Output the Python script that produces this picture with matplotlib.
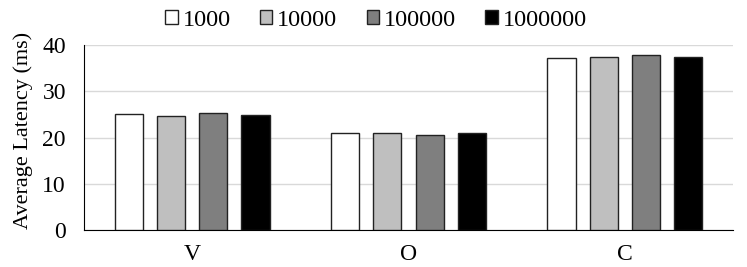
import matplotlib
matplotlib.use("Agg")
import matplotlib.pyplot as plt
import numpy as np

plt.rcParams['font.family'] = ['Liberation Serif', 'DejaVu Serif']

categories = ["V", "O", "C"]
series_names = ["1000", "10000", "100000", "1000000"]
values = {
    "1000": [25.1, 20.9, 37.2],
    "10000": [24.7, 20.9, 37.5],
    "100000": [25.4, 20.6, 37.8],
    "1000000": [24.8, 21.0, 37.5],
}
colors = ["white", "#bfbfbf", "#7f7f7f", "black"]

fig = plt.figure(figsize=(7.47, 2.67), dpi=100)
ax = fig.add_axes([84 / 747, 1 - 230 / 267, 649 / 747, 185 / 267])

x = np.arange(len(categories))
width = 0.13
step = 0.195
for i, name in enumerate(series_names):
    offset = (i - 1.5) * step
    ax.bar(x + offset, values[name], width, color=colors[i], edgecolor="#222222",
           linewidth=1.0, label=name, zorder=3)

ax.set_xlim(-0.5, 2.5)
ax.set_ylim(0, 40)
ax.set_yticks([0, 10, 20, 30, 40])
ax.set_xticks(x, categories)
ax.tick_params(axis='both', length=0, labelsize=17)
ax.tick_params(axis='x', pad=10)
ax.tick_params(axis='y', pad=13)
ax.grid(axis='y', color='#d9d9d9', linewidth=1.0, zorder=0)
for s in ["top", "right"]:
    ax.spines[s].set_visible(False)
ax.spines["left"].set_color("black")
ax.spines["bottom"].set_color("black")
ax.set_ylabel("Average Latency (ms)", fontsize=16)
ax.yaxis.set_label_coords((33 - 84) / 649, 0.54)

ax.legend(loc="center", bbox_to_anchor=(376 / 747, 1 - 20 / 267), bbox_transform=fig.transFigure,
          ncol=4, frameon=False, fontsize=17.5, handlelength=0.52, handleheight=0.52,
          handletextpad=0.2, columnspacing=1.2, borderaxespad=0, borderpad=0)

fig.savefig("out.png", dpi=100)
